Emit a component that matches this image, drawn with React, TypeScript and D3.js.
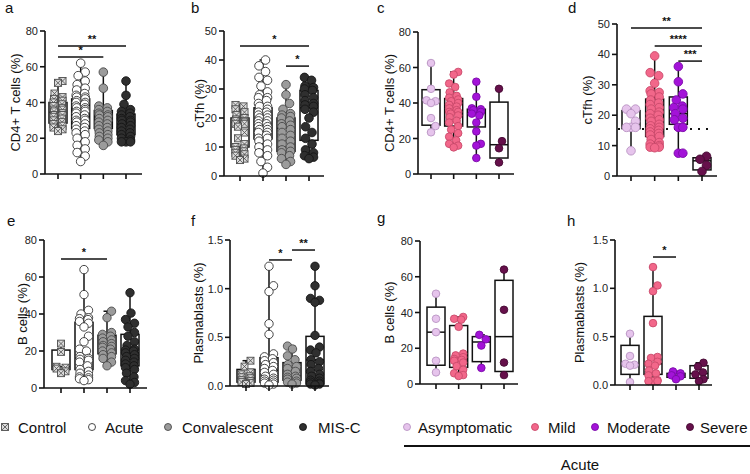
import React from "react";
import * as d3 from "d3";

const patientGroups = ["Control", "Acute", "Convalescent", "MIS-C"];
const acuteGroups = ["Asymptomatic", "Mild", "Moderate", "Severe"];

// a - CD4+ T cells by cohort
const cd4Points = [
  [52, 51, 45, 43, 42, 41, 40, 39, 38, 37, 36, 36, 35, 34, 33, 33, 32, 31, 30, 29, 28, 27, 26, 25, 24],
  [62, 57, 55, 52, 50, 48, 47, 45, 44, 43, 43, 42, 41, 40, 40, 39, 38, 37, 37, 36, 35, 35, 34, 33, 32, 31, 30, 30, 29, 28, 27, 26, 25, 24, 23, 22, 20, 18, 16, 14, 12, 10, 7],
  [57, 48, 38, 37, 36, 35, 34, 33, 33, 32, 31, 30, 29, 28, 27, 26, 25, 24, 23, 22, 21, 20, 19, 18, 16],
  [52, 44, 39, 36, 35, 34, 33, 32, 31, 30, 30, 29, 28, 27, 26, 25, 24, 23, 22, 21, 20, 19, 18, 18, 18],
];
const cd4Boxes = [[24, 28.5, 34.5, 40, 52.5], [7, 25.5, 35, 42, 62], [16, 25.5, 32, 35.5, 57], [17.5, 22, 28, 33.5, 52]];

// b - cTfh by cohort
const tfhPoints = [
  [24.5, 24, 23, 22, 21, 20, 19.5, 19, 19, 18.5, 18, 18, 17, 15, 13, 11, 10, 9.5, 9, 8.5, 8, 7.5, 7, 6, 5.5],
  [40, 38, 36, 34, 33, 31, 29, 28, 27, 27, 26, 25, 24, 24, 23, 22, 22, 21, 21, 20, 20, 19, 19, 18, 18, 17, 17, 16, 16, 15, 15, 14, 13, 13, 12, 11, 10, 9, 8, 7, 5, 3, 1],
  [31.5, 28, 25, 23, 21.5, 21, 20.5, 20, 19, 18, 17.5, 17, 16, 15, 14, 13, 12, 11, 10, 9, 8.5, 8, 7, 6, 5, 4],
  [34, 33, 31, 30.5, 30, 29.5, 28, 27, 26, 25, 24.5, 24, 23, 22, 20, 17, 15, 13, 11, 9, 8, 7, 6.5, 6],
];
const tfhBoxes = [[5.5, 10, 18.5, 20, 24.5], [1, 12.8, 18.5, 23.5, 40], [4, 8.5, 16.5, 20, 31.5], [6, 12.3, 23.5, 29.5, 34]];

// c - CD4+ T cells by severity
const cd4SevPoints = [
  [62.5, 48, 41.5, 41, 40, 31.5, 27, 23.5],
  [57.5, 56, 51, 49, 46, 44, 43, 42, 41, 40, 39, 38, 37, 36, 35, 35, 34, 33, 32, 30, 29, 27, 25, 23, 21, 19, 17, 16, 15],
  [52, 43.5, 37, 36.5, 36, 35, 34, 33, 29, 24, 17, 16, 9],
  [48, 18.5, 14.5, 6.5],
];
const cd4SevBoxes = [[23.5, 27.5, 41, 47.5, 62.5], [15, 27, 35, 42.5, 57.5], [9, 26.5, 34.5, 36.5, 52], [6.5, 9, 16.5, 40.5, 48]];

// d - cTfh by severity
const tfhSevPoints = [
  [22, 22, 20.5, 18, 16, 16, 16, 8.3],
  [39.5, 34, 33, 30.5, 28, 27.5, 27, 26, 25, 24, 23.5, 22.5, 22, 21, 20.5, 20, 19, 18.5, 18, 17, 16.5, 16, 15.5, 15, 14.5, 14, 13.5, 13, 12, 11, 10.5, 10, 9.5, 9.5, 9.3],
  [36, 31, 27, 25, 23, 22.5, 22, 20.5, 19, 18.5, 16, 16, 7.5, 7.5],
  [6.5, 5.5, 3.5, 1.5],
];
const tfhSevBoxes = [[8.3, 15.6, 15.8, 21.5, 22], [9.3, 13, 17, 25.3, 39.5], [7.5, 17, 20.5, 26, 36], [1.5, 2, 5, 6, 6.5]];
const tfhControlLevel = 15.5;

// e - B cells by cohort
const bPoints = [
  [24, 19.5, 11.5, 11, 10.5, 9, 8],
  [64, 50.5, 42, 40, 38, 37.5, 37, 36, 35, 33, 28, 25, 21, 20, 17, 16, 15.5, 15, 14, 12, 10, 9, 8, 7, 6, 5.5, 5, 4.5, 4],
  [41.5, 38, 30, 29, 28, 27, 26, 25, 24, 23, 22.5, 22, 21, 20, 19, 18, 17, 16, 14, 12],
  [51.5, 40.5, 37, 35, 33, 30, 28, 25, 23, 21, 20.5, 20, 19, 18, 17, 16, 15, 14, 13, 12, 11, 10, 8, 6, 4, 3, 2],
];
const bBoxes = [[8, 10, 11.5, 20.5, 24], [4, 10, 16, 35.5, 64], [12, 18.5, 22.5, 28.5, 41.5], [2, 12, 19, 29, 51.5]];

// f - plasmablasts by cohort
const pbPoints = [
  [0.26, 0.2, 0.14, 0.12, 0.1, 0.09, 0.08, 0.06, 0.05, 0.04, 0.03, 0.02],
  [1.23, 1.03, 0.97, 0.64, 0.53, 0.33, 0.3, 0.28, 0.26, 0.24, 0.22, 0.2, 0.18, 0.16, 0.14, 0.12, 0.1, 0.08, 0.07, 0.06, 0.05, 0.04, 0.03, 0.02, 0.01],
  [0.41, 0.38, 0.31, 0.27, 0.22, 0.2, 0.18, 0.15, 0.12, 0.1, 0.09, 0.08, 0.07, 0.05, 0.04, 0.03, 0.02],
  [1.23, 1.03, 0.9, 0.88, 0.86, 0.52, 0.4, 0.37, 0.34, 0.27, 0.25, 0.22, 0.18, 0.15, 0.12, 0.1, 0.08, 0.06, 0.05, 0.04, 0.03, 0.02, 0.02, 0.01],
];
const pbBoxes = [[0.02, 0.04, 0.08, 0.17, 0.26], [0.01, 0.04, 0.16, 0.29, 1.23], [0.02, 0.06, 0.1, 0.24, 0.41], [0.01, 0.02, 0.27, 0.51, 1.23]];

// g - B cells by severity
const bSevPoints = [
  [50.5, 36.5, 29, 13, 6.5],
  [37.5, 36.5, 36, 32, 17, 16, 15, 14, 13.5, 13, 12, 10, 8, 6, 5, 4.5],
  [27.5, 25, 21.5, 9],
  [64, 41.5, 12, 5],
];
const bSevBoxes = [[6.5, 10.5, 29, 43, 50.5], [4.5, 9.3, 13.5, 32.7, 37.5], [9, 12.5, 23.5, 26.5, 27.5], [5, 7, 26.5, 58, 64]];

// h - plasmablasts by severity
const pbSevPoints = [
  [0.53, 0.3, 0.22, 0.21, 0.2, 0.03],
  [1.22, 1.03, 0.97, 0.64, 0.29, 0.28, 0.24, 0.22, 0.2, 0.15, 0.12, 0.1, 0.05, 0.04, 0.04, 0.04],
  [0.14, 0.12, 0.1, 0.09, 0.06],
  [0.23, 0.19, 0.13, 0.11, 0.06, 0.04],
];
const pbSevBoxes = [[0.03, 0.11, 0.22, 0.41, 0.53], [0.04, 0.11, 0.22, 0.71, 1.22], [0.06, 0.08, 0.1, 0.12, 0.14], [0.04, 0.07, 0.12, 0.2, 0.23]];

// significance bars: [from group, to group, height, label]
const cd4Sig: [number, number, number, string][] = [[0, 3, 71.6, "**"], [0, 2, 65.5, "*"]];
const tfhSig: [number, number, number, string][] = [[0, 3, 44.8, "*"], [2, 3, 37.9, "*"]];
const tfhSevSig: [number, number, number, string][] = [[0, 3, 48.7, "**"], [1, 3, 42.8, "****"], [2, 3, 37.8, "***"]];
const bSig: [number, number, number, string][] = [[0, 2, 69.7, "*"]];
const pbSig: [number, number, number, string][] = [[1, 2, 1.295, "*"], [2, 3, 1.397, "**"]];
const pbSevSig: [number, number, number, string][] = [[1, 2, 1.324, "*"]];

const colors: Record<string, [string, string]> = {
  Control: ["#dcdcdc", "#4d4d4d"],
  Acute: ["#ffffff", "#333333"],
  Convalescent: ["#9b9b9b", "#4a4a4a"],
  "MIS-C": ["#2f2f2f", "#151515"],
  Asymptomatic: ["#e6c4ec", "#b994c3"],
  Mild: ["#f2678a", "#c9496b"],
  Moderate: ["#a313d8", "#7b0aa8"],
  Severe: ["#66104b", "#450a33"],
};

const FONT = "'Liberation Sans', Arial, Helvetica, sans-serif";

type Panel = {
  letter: string; lx: number; ly: number;
  label: string; labelX: number;
  x0: number; c0: number; c1: number; xEnd: number;
  yTop: number; yBot: number; max: number; step: number; fmt: string;
  groups: string[]; points: number[][]; boxes: number[][];
  sig: [number, number, number, string][];
  r: number; ref?: number;
};

const panels: Panel[] = [
  { letter: "a", lx: 5, ly: 13, label: "CD4+ T cells (%)", labelX: 15, x0: 45, c0: 58, c1: 126, xEnd: 142, yTop: 31, yBot: 174, max: 80, step: 20, fmt: "d", groups: patientGroups, points: cd4Points, boxes: cd4Boxes, sig: cd4Sig, r: 4.3 },
  { letter: "b", lx: 191, ly: 13, label: "cTfh (%)", labelX: 199, x0: 224, c0: 240, c1: 309, xEnd: 324, yTop: 31, yBot: 176, max: 50, step: 10, fmt: "d", groups: patientGroups, points: tfhPoints, boxes: tfhBoxes, sig: tfhSig, r: 4.3 },
  { letter: "c", lx: 377, ly: 13, label: "CD4+ T cells (%)", labelX: 389, x0: 418, c0: 431, c1: 499, xEnd: 514, yTop: 32, yBot: 174, max: 80, step: 20, fmt: "d", groups: acuteGroups, points: cd4SevPoints, boxes: cd4SevBoxes, sig: [], r: 3.8 },
  { letter: "d", lx: 568, ly: 13, label: "cTfh (%)", labelX: 587, x0: 617, c0: 631, c1: 702, xEnd: 717, yTop: 24, yBot: 176, max: 50, step: 10, fmt: "d", groups: acuteGroups, points: tfhSevPoints, boxes: tfhSevBoxes, sig: tfhSevSig, r: 4.3, ref: tfhControlLevel },
  { letter: "e", lx: 7, ly: 226, label: "B cells (%)", labelX: 22, x0: 44, c0: 61, c1: 130, xEnd: 147, yTop: 240, yBot: 388, max: 80, step: 20, fmt: "d", groups: patientGroups, points: bPoints, boxes: bBoxes, sig: bSig, r: 4.2 },
  { letter: "f", lx: 191, ly: 226, label: "Plasmablasts (%)", labelX: 198, x0: 230, c0: 246, c1: 315, xEnd: 329, yTop: 240, yBot: 386, max: 1.5, step: 0.5, fmt: ".1f", groups: patientGroups, points: pbPoints, boxes: pbBoxes, sig: pbSig, r: 4.2 },
  { letter: "g", lx: 377, ly: 223, label: "B cells (%)", labelX: 389, x0: 420, c0: 436, c1: 504, xEnd: 518, yTop: 241, yBot: 384, max: 80, step: 20, fmt: "d", groups: acuteGroups, points: bSevPoints, boxes: bSevBoxes, sig: [], r: 3.8 },
  { letter: "h", lx: 567, ly: 226, label: "Plasmablasts (%)", labelX: 579, x0: 615, c0: 630, c1: 699, xEnd: 712, yTop: 240, yBot: 385, max: 1.5, step: 0.5, fmt: ".1f", groups: acuteGroups, points: pbSevPoints, boxes: pbSevBoxes, sig: pbSevSig, r: 3.8 },
];

// greedy swarm: place each point (low to high) at the offset with least overlap
function swarm(vals: number[], y: (v: number) => number, r: number, w: number) {
  const placed: { x: number; y: number }[] = [];
  const out: { x: number; y: number }[] = new Array(vals.length);
  const order = vals.map((v, i) => ({ v, i })).sort((a, b) => a.v - b.v);
  const n = Math.round(w / 0.5);
  for (const { v, i } of order) {
    const py = y(v);
    let best = 0;
    let bestCost = Infinity;
    for (let k = 0; k <= 2 * n; k++) {
      const dx = Math.ceil(k / 2) * 0.5 * (k % 2 ? 1 : -1);
      let cost = Math.abs(dx) * 0.08;
      for (const p of placed) {
        const d = Math.hypot(p.x - dx, p.y - py);
        if (d < 2 * r) cost += 2 * r - d;
      }
      if (cost < bestCost - 1e-9) {
        bestCost = cost;
        best = dx;
      }
    }
    placed.push({ x: best, y: py });
    out[i] = { x: best, y: py };
  }
  return out;
}

function Marker({ group, x, y, r }: { group: string; x: number; y: number; r: number }) {
  const [fill, stroke] = colors[group];
  if (group === "Control") {
    const s = r * 0.82;
    return (
      <g>
        <rect x={x - s} y={y - s} width={2 * s} height={2 * s} fill={fill} stroke={stroke} strokeWidth={0.9} />
        <path d={`M${x - s},${y - s}L${x + s},${y + s}M${x + s},${y - s}L${x - s},${y + s}`} stroke={stroke} strokeWidth={0.8} />
      </g>
    );
  }
  return <circle cx={x} cy={y} r={r} fill={fill} stroke={stroke} strokeWidth={0.9} />;
}

function PanelView({ p }: { p: Panel }) {
  const y = d3.scaleLinear().domain([0, p.max]).range([p.yBot, p.yTop]);
  const x = d3.scalePoint<string>().domain(p.groups).range([p.c0, p.c1]);
  const ticks = d3.range(0, p.max + p.step / 2, p.step);
  const fmt = d3.format(p.fmt);
  const bw = 18;
  const cap = 7;
  const midY = (p.yTop + p.yBot) / 2;
  return (
    <g>
      <text x={p.lx} y={p.ly} fontSize={15} fontFamily={FONT} fill="#111">{p.letter}</text>
      <text transform={`translate(${p.labelX},${midY}) rotate(-90)`} textAnchor="middle" dominantBaseline="central" fontSize={13} fontFamily={FONT} fill="#111">{p.label}</text>
      {/* boxes */}
      {p.groups.map((g, i) => {
        const [mn, q1, md, q3, mx] = p.boxes[i];
        const cx = x(g)!;
        return (
          <g key={g} stroke="#111" strokeWidth={1.5} fill="none">
            <line x1={cx} x2={cx} y1={y(mx)} y2={y(mn)} />
            <line x1={cx - cap / 2} x2={cx + cap / 2} y1={y(mx)} y2={y(mx)} />
            <line x1={cx - cap / 2} x2={cx + cap / 2} y1={y(mn)} y2={y(mn)} />
            <rect x={cx - bw / 2} y={y(q3)} width={bw} height={y(q1) - y(q3)} fill="#fff" />
            <line x1={cx - bw / 2} x2={cx + bw / 2} y1={y(md)} y2={y(md)} />
          </g>
        );
      })}
      {p.ref !== undefined && (
        <line x1={p.x0 + 1} x2={p.xEnd - 3} y1={y(p.ref)} y2={y(p.ref)} stroke="#111" strokeWidth={2} strokeDasharray="2,6" />
      )}
      {/* points */}
      {p.groups.map((g, i) => {
        const pos = swarm(p.points[i], (v) => y(v), p.r, 4.5);
        const cx = x(g)!;
        return (
          <g key={g}>
            {pos.map((d, j) => (
              <Marker key={j} group={g} x={cx + d.x} y={d.y} r={p.r} />
            ))}
          </g>
        );
      })}
      {/* axes */}
      <g stroke="#111" strokeWidth={1.6} fill="none">
        <line x1={p.x0} x2={p.x0} y1={p.yTop} y2={p.yBot} />
        <line x1={p.x0} x2={p.xEnd} y1={p.yBot} y2={p.yBot} />
        {ticks.map((t) => (
          <line key={t} x1={p.x0 - 5} x2={p.x0} y1={y(t)} y2={y(t)} />
        ))}
        {p.groups.map((g) => (
          <line key={g} x1={x(g)} x2={x(g)} y1={p.yBot} y2={p.yBot + 5} />
        ))}
      </g>
      {ticks.map((t) => (
        <text key={t} x={p.x0 - 7} y={y(t)} textAnchor="end" dominantBaseline="central" fontSize={11} fontFamily={FONT} fill="#222">{fmt(t)}</text>
      ))}
      {/* significance */}
      {p.sig.map(([a, b, h, lab], k) => {
        const x1 = x(p.groups[a])!;
        const x2 = x(p.groups[b])!;
        return (
          <g key={k}>
            <line x1={x1} x2={x2} y1={y(h)} y2={y(h)} stroke="#111" strokeWidth={1.5} />
            <text x={(x1 + x2) / 2} y={y(h) - 3} textAnchor="middle" fontSize={11} fontWeight="bold" fontFamily={FONT} fill="#111">{lab}</text>
          </g>
        );
      })}
    </g>
  );
}

const legendLeft: [string, number, number][] = [["Control", 5, 18], ["Acute", 92, 105], ["Convalescent", 168, 182], ["MIS-C", 303, 318]];
const legendRight: [string, number, number][] = [["Asymptomatic", 407, 418], ["Mild", 535, 548], ["Moderate", 595, 607], ["Severe", 690, 700]];

export default function App() {
  const ly = 427;
  return (
    <svg width={750} height={474} style={{ position: "absolute", left: 0, top: 0, background: "#fff" }}>
      {panels.map((p) => (
        <PanelView key={p.letter} p={p} />
      ))}
      {[...legendLeft, ...legendRight].map(([g, mx, tx]) => (
        <g key={g}>
          <Marker group={g} x={mx} y={ly} r={g === "Control" ? 4.2 : 3.5} />
          <text x={tx} y={ly} dominantBaseline="central" fontSize={15} fontFamily={FONT} fill="#111">{g}</text>
        </g>
      ))}
      <line x1={404} x2={750} y1={446} y2={446} stroke="#111" strokeWidth={2} />
      <text x={580} y={464} textAnchor="middle" dominantBaseline="central" fontSize={15} fontFamily={FONT} fill="#111">Acute</text>
    </svg>
  );
}
